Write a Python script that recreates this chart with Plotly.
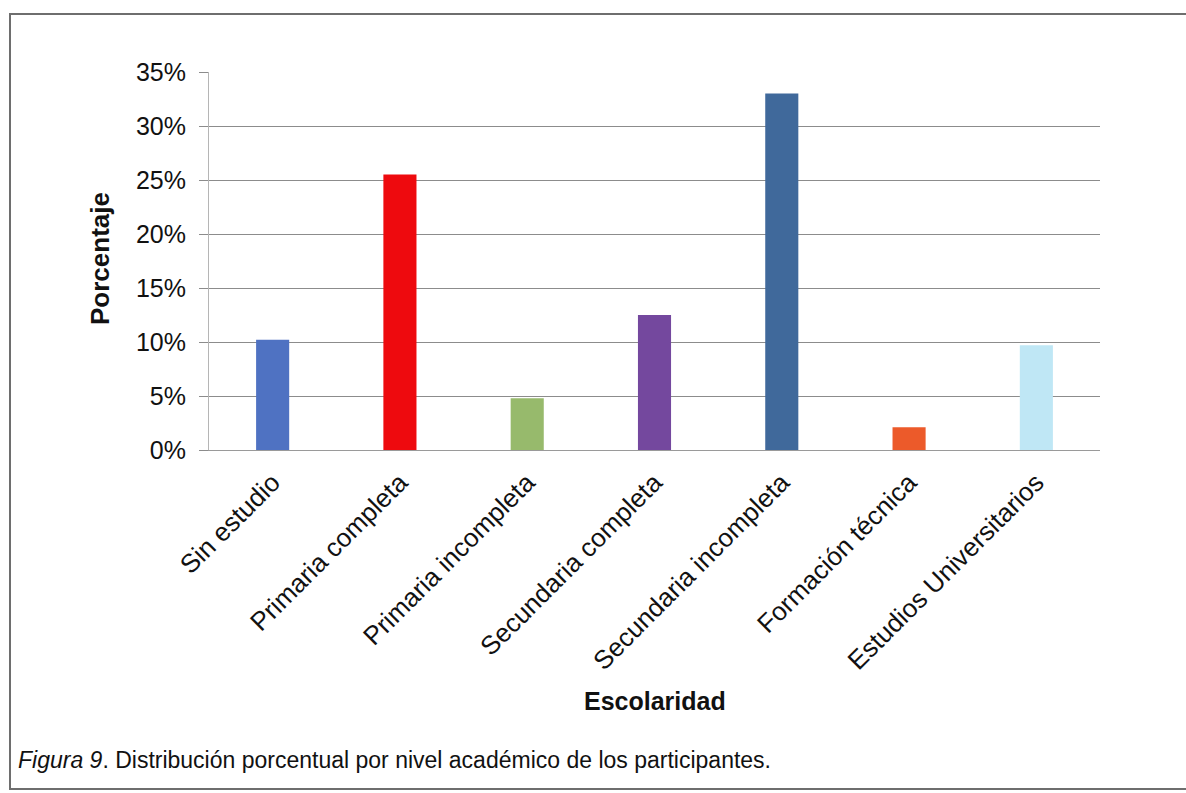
import plotly.graph_objects as go

# Distribución porcentual por nivel académico
categorias = [
    "Sin estudio",
    "Primaria completa",
    "Primaria incompleta",
    "Secundaria completa",
    "Secundaria incompleta",
    "Formación técnica",
    "Estudios Universitarios",
]
porcentajes = [10.2, 25.5, 4.8, 12.5, 33.0, 2.1, 9.7]
colores = ["#4F72C2", "#EE0A0E", "#97BA6C", "#74489E", "#40699B", "#EC5A2A", "#BFE7F5"]
ticks_y = [0, 5, 10, 15, 20, 25, 30, 35]

W, H = 1186, 793
L, R, T, B = 209, 86, 72, 343
pw, ph = W - L - R, H - T - B

def px_x(x):
    return (x - L) / pw

def px_y(y):
    return (H - B - y) / ph

fig = go.Figure(
    go.Bar(
        x=categorias,
        y=porcentajes,
        marker=dict(color=colores, line=dict(width=0)),
        width=0.26,
        hoverinfo="x+y",
    )
)

font_main = "Liberation Sans, Arial, sans-serif"

fig.update_layout(
    width=W,
    height=H,
    margin=dict(l=L, r=R, t=T, b=B, pad=0),
    paper_bgcolor="white",
    plot_bgcolor="white",
    showlegend=False,
    font=dict(family=font_main, color="#111111"),
    xaxis=dict(
        tickangle=-45,
        tickfont=dict(size=26, family=font_main, color="#111111"),
        showline=True,
        linecolor="#9a9a9a",
        linewidth=1,
        ticks="",
        showgrid=False,
        ticklabelstandoff=6,
    ),
    yaxis=dict(
        range=[0, 35],
        tickvals=ticks_y,
        ticktext=[f"{v}%" for v in ticks_y],
        tickfont=dict(size=25, family=font_main, color="#111111"),
        showgrid=True,
        gridcolor="#8c8c8c",
        gridwidth=1,
        ticks="outside",
        ticklen=9,
        tickcolor="#8c8c8c",
        showline=True,
        linecolor="#b5b5b5",
        linewidth=1,
        zeroline=False,
        ticklabelstandoff=8,
    ),
)

# Títulos de los ejes
fig.add_annotation(
    text="<b>Porcentaje</b>",
    xref="paper", yref="paper",
    x=px_x(100), y=px_y(259),
    xanchor="center", yanchor="middle",
    textangle=-90,
    showarrow=False,
    font=dict(size=26, family=font_main, color="#111111"),
)

fig.add_annotation(
    text="<b>Escolaridad</b>",
    xref="paper", yref="paper",
    x=px_x(655), y=px_y(701),
    xanchor="center", yanchor="middle",
    showarrow=False,
    font=dict(size=25, family=font_main, color="#111111"),
)

fig.add_annotation(
    text="<i>Figura 9</i>. Distribución porcentual por nivel académico de los participantes.",
    xref="paper", yref="paper",
    x=px_x(16), y=px_y(760),
    xanchor="left", yanchor="middle",
    showarrow=False,
    font=dict(size=23, family=font_main, color="#111111"),
)

# Marco alrededor de la figura
fig.add_shape(
    type="rect",
    xref="paper", yref="paper",
    x0=px_x(10), x1=px_x(1200),
    y0=px_y(789), y1=px_y(14),
    line=dict(color="#6e6e6e", width=2),
    fillcolor="rgba(0,0,0,0)",
    layer="below",
)

fig.write_html("out.html")
